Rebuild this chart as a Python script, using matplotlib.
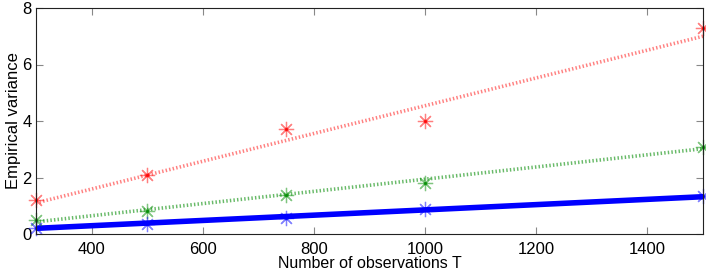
import matplotlib
matplotlib.use("Agg")
import matplotlib.pyplot as plt

plt.rcParams['font.family'] = ['Liberation Sans', 'DejaVu Sans']

T = [300, 500, 750, 1000, 1500]
var_red = [1.2, 2.1, 3.7, 4.0, 7.3]
var_green = [0.5, 0.82, 1.38, 1.8, 3.08]
var_blue = [0.2, 0.35, 0.57, 0.88, 1.36]

# fitted lines, read at both ends of the x range
T_fit = [300, 1500]
fit_red = [1.1, 7.0]
fit_green = [0.43, 3.02]
fit_blue = [0.2, 1.32]

fig = plt.figure(figsize=(7.06, 2.78), dpi=100)
ax = fig.add_axes([36 / 706, 1 - 234 / 278, 667 / 706, 226 / 278])

asterisk = (8, 2, 0)

ax.plot(T_fit, fit_red, color=(1, 0.45, 0.45), lw=2.6, ls=(0, (0.4, 0.6)), alpha=0.9)
ax.plot(T_fit, fit_green, color=(0.35, 0.7, 0.35), lw=2.6, ls=(0, (0.4, 0.6)), alpha=0.9)
ax.plot(T_fit, fit_blue, color=(0, 0, 1), lw=4)

for vals, col in [(var_red, (1, 0, 0)), (var_green, (0, 0.55, 0)), (var_blue, (0, 0, 1))]:
    ax.plot(T, vals, ls='none', marker=asterisk, ms=11, mew=0.9,
            color=col, alpha=0.5, clip_on=False)
    ax.plot(T, vals, ls='none', marker='.', ms=3, color=col, alpha=0.8, clip_on=False)

ax.set_xlim(300, 1500)
ax.set_ylim(0, 8)
ax.set_xticks([400, 600, 800, 1000, 1200, 1400])
ax.set_yticks([0, 2, 4, 6, 8])
ax.tick_params(direction='in', top=True, right=True, length=5, width=0.8,
               labelsize=12, colors='#888888', labelcolor='black')
ax.tick_params(axis='x', pad=6)
ax.tick_params(axis='y', pad=3)
for sp in ax.spines.values():
    sp.set_linewidth(0.8)
    sp.set_color('#222222')

ax.set_xlabel('Number of observations T', fontsize=11.5, labelpad=-1)
ax.set_ylabel('Empirical variance', fontsize=12, labelpad=1)

fig.savefig('out.png', dpi=100)
